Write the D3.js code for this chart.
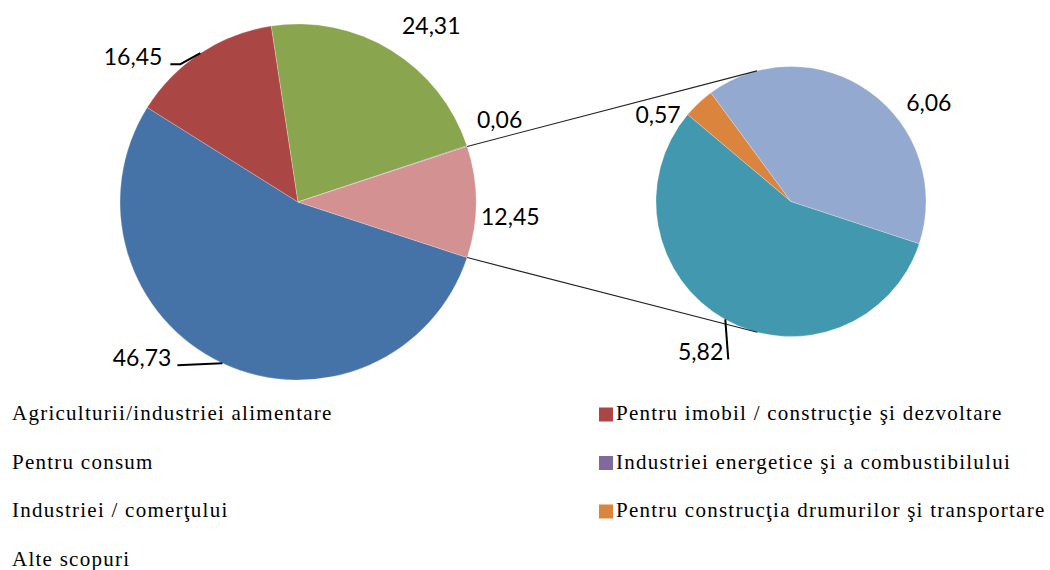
<!DOCTYPE html>
<html>
<head>
<meta charset="utf-8">
<script src="https://cdn.jsdelivr.net/npm/d3@7"></script>
<style>
  body { margin: 0; background: #fff; }
  svg { display: block; }
  .legend text { font-family: "Liberation Serif", "DejaVu Serif", serif; font-size: 21px; letter-spacing: 1.25px; }
  .lbl { font-family: Lato, "Open Sans", sans-serif; font-size: 23px; }
</style>
</head>
<body>
<script>
// categories in legend order; the last three are split out into the small pie
var categories = ["Agriculturii/industriei alimentare", "Pentru imobil / construcţie şi dezvoltare",
                  "Pentru consum", "Industriei energetice şi a combustibilului",
                  "Industriei / comerţului", "Pentru construcţia drumurilor şi transportare",
                  "Alte scopuri"];
// slice sizes as drawn in the picture (%)
var shares = [53.9, 13.7, 22.3, 0.06, 5.67, 0.38, 4.06];
// values printed on the slices
var labels = ["46,73", "16,45", "24,31", "0,06", "5,82", "0,57", "6,06"];
var otherLabel = "12,45";
var colors = ["#4572A7", "#AA4643", "#89A54E", "#80699B", "#4198AF", "#DB843D", "#93A9CF"];
var otherColor = "#D39291";
var nSecond = 3;

var W = 1050, H = 570;
var main = {cx: 298, cy: 202, r: 178};
var small = {cx: 791, cy: 201.5, r: 135};

// label nudges from the slice's rim point (text anchor, baseline), plus leader points
var labelLayout = {
  "46,73": {dx: -51, dy: 3, anchor: "end", leader: [[-45, 2]]},
  "16,45": {dx: -38, dy: 12, anchor: "end", leader: [[-20, 11], [-30, 11]]},
  "24,31": {dx: 11, dy: -16, anchor: "start"},
  "0,06":  {dx: 10, dy: -18, anchor: "start"},
  "12,45": {dx: 5, dy: 23, anchor: "start"},
  "5,82":  {dx: -2, dy: 41, anchor: "end", leader: [[3, 40]]},
  "0,57":  {dx: -18, dy: 20, anchor: "end"},
  "6,06":  {dx: 36, dy: 19, anchor: "start"}
};

var items = categories.map(function(c, i) {
  return {name: c, v: shares[i], label: labels[i], color: colors[i]};
});
var firstItems = items.slice(0, items.length - nSecond);
var secondItems = items.slice(items.length - nSecond);
var otherItem = {name: "other", v: d3.sum(secondItems, d => d.v), label: otherLabel, color: otherColor};
var mainItems = firstItems.concat([otherItem]);

var total = d3.sum(mainItems, d => d.v);
// the "other" slice is centred on 3 o'clock
var start = Math.PI / 2 + Math.PI * otherItem.v / total;

var pie = d3.pie().sort(null).value(d => d.v).startAngle(start).endAngle(start + 2 * Math.PI);

var svg = d3.select("body").append("svg").attr("width", W).attr("height", H);

function rim(p, a) { return [p.cx + p.r * Math.sin(a), p.cy - p.r * Math.cos(a)]; }

function drawPie(p, data) {
  var arcs = pie(data);
  var arc = d3.arc().innerRadius(0).outerRadius(p.r);
  var g = svg.append("g").attr("transform", "translate(" + p.cx + "," + p.cy + ")");
  g.selectAll("path").data(arcs).enter().append("path")
    .attr("d", arc)
    .attr("fill", d => d.data.color)
    .attr("stroke", "#fff").attr("stroke-width", 0.4).attr("stroke-opacity", 0.6);
  return arcs;
}

var mainArcs = drawPie(main, mainItems);
var smallArcs = drawPie(small, secondItems);

// connector lines: from the edges of the "other" slice, tangent to the small pie
var oArc = mainArcs[mainArcs.length - 1];
[[oArc.startAngle, 1], [oArc.endAngle, -1]].forEach(function(e) {
  var P = rim(main, e[0]);
  var dx = P[0] - small.cx, dy = P[1] - small.cy;
  var d = Math.sqrt(dx * dx + dy * dy);
  var phi = Math.atan2(dy, dx) + e[1] * Math.acos(small.r / d);
  var T = [small.cx + small.r * Math.cos(phi), small.cy + small.r * Math.sin(phi)];
  svg.append("line")
    .attr("x1", P[0]).attr("y1", P[1]).attr("x2", T[0]).attr("y2", T[1])
    .attr("stroke", "#222").attr("stroke-width", 1.1);
});

function drawLabels(p, arcs) {
  arcs.forEach(function(a) {
    var L = labelLayout[a.data.label];
    var R = rim(p, (a.startAngle + a.endAngle) / 2);
    if (L.leader) {
      var pts = [R].concat(L.leader.map(o => [R[0] + o[0], R[1] + o[1]]));
      svg.append("path").attr("d", d3.line()(pts))
        .attr("fill", "none").attr("stroke", "#000").attr("stroke-width", 2);
    }
    svg.append("text").attr("class", "lbl")
      .attr("x", R[0] + L.dx).attr("y", R[1] + L.dy)
      .attr("text-anchor", L.anchor)
      .attr("fill", "#000")
      .text(a.data.label);
  });
}
drawLabels(main, mainArcs);
drawLabels(small, smallArcs);

// legend: two columns, filled row by row; left column markers fall outside the frame
var legend = svg.append("g").attr("class", "legend");
var colX = [12, 616], rowY0 = 420, rowStep = 48.5;
items.forEach(function(d, i) {
  var col = i % 2, row = Math.floor(i / 2);
  var y = rowY0 + row * rowStep;
  if (col === 1) {
    legend.append("rect").attr("x", colX[col] - 17).attr("y", y - 12.5)
      .attr("width", 14).attr("height", 14).attr("fill", d.color);
  }
  legend.append("text").attr("x", colX[col]).attr("y", y).attr("fill", "#000").text(d.name);
});
</script>
</body>
</html>
